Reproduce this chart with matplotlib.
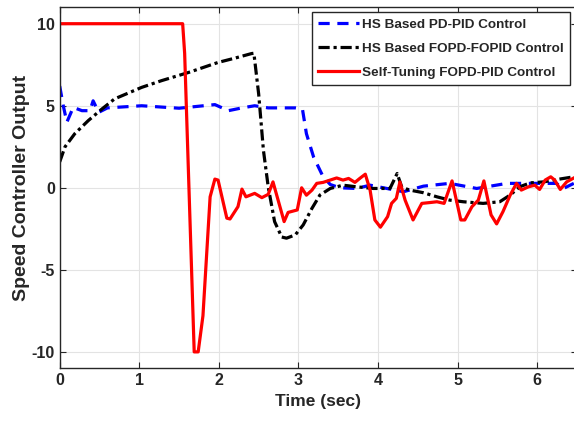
import numpy as np
import matplotlib
matplotlib.use("Agg")
import matplotlib.pyplot as plt

plt.rcParams['font.family'] = ['Liberation Sans', 'DejaVu Sans']
plt.rcParams['font.weight'] = 'bold'
plt.rcParams['axes.unicode_minus'] = False

# HS based PD-PID (blue dashed)
t_pd = [0.0, 0.045, 0.09, 0.17, 0.28, 0.38, 0.42, 0.49, 0.6, 1.03, 1.5, 1.95, 2.12,
        2.29, 2.45, 2.62, 2.96, 3.05, 3.10, 3.19, 3.31, 3.40, 3.52, 3.73, 3.90, 4.32,
        4.57, 4.90, 5.24, 5.62, 5.91, 6.24, 6.33, 6.46]
u_pd = [6.2, 5.0, 4.0, 4.9, 4.7, 4.7, 5.3, 4.6, 4.87, 5.0, 4.85, 5.07, 4.7,
        4.87, 5.0, 4.87, 4.87, 4.8, 3.3, 1.88, 0.67, 0.2, 0.0, -0.04, 0.16, -0.24,
        0.1, 0.27, -0.04, 0.27, 0.27, 0.27, -0.04, 0.27]

# HS based FOPD-FOPID (black dash-dot)
t_fo = [0.0, 0.067, 0.19, 0.36, 0.53, 0.69, 1.03, 1.28, 1.62, 1.99, 2.20, 2.41, 2.44,
        2.50, 2.56, 2.62, 2.70, 2.79, 2.85, 2.96, 3.06, 3.17, 3.27, 3.40, 3.56, 3.73,
        3.94, 4.15, 4.19, 4.24, 4.30, 4.40, 4.57, 4.74, 4.90, 5.07, 5.32, 5.53, 5.66,
        5.78, 5.91, 6.08, 6.24, 6.46]
u_fo = [1.58, 2.5, 3.3, 4.1, 4.8, 5.42, 6.12, 6.53, 7.03, 7.64, 7.9, 8.18, 8.2,
        5.72, 2.28, 0.06, -2.06, -3.0, -3.07, -2.87, -2.26, -1.25, -0.44, -0.04, 0.16, 0.06,
        -0.04, -0.04, 0.36, 0.87, 0.02, -0.14, -0.3, -0.55, -0.75, -0.85, -0.95, -0.85, -0.44,
        0.06, 0.3, 0.36, 0.5, 0.67]

# Self-tuning FOPD-PID (red solid)
t_st = [0.0, 1.545, 1.57, 1.69, 1.74, 1.80, 1.89, 1.95, 1.99, 2.10, 2.14, 2.24, 2.29,
        2.34, 2.45, 2.54, 2.62, 2.68, 2.82, 2.87, 2.985, 3.04, 3.10, 3.17, 3.23, 3.31,
        3.48, 3.56, 3.63, 3.71, 3.77, 3.84, 3.90, 3.96, 4.03, 4.12, 4.17, 4.23, 4.275,
        4.34, 4.44, 4.55, 4.65, 4.74, 4.83, 4.93, 5.04, 5.09, 5.18, 5.26, 5.33, 5.42,
        5.49, 5.57, 5.66, 5.74, 5.80, 5.89, 5.97, 6.03, 6.10, 6.17, 6.22, 6.29, 6.37, 6.46]
u_st = [10.0, 10.0, 8.2, -10.0, -10.0, -7.8, -0.55, 0.53, 0.47, -1.85, -1.9, -1.15, -0.08,
        -0.55, -0.34, -0.6, -0.4, 0.36, -2.06, -1.5, -1.35, 0.0, -0.45, -0.14, 0.27, 0.33,
        0.6, 0.47, 0.57, 0.33, 0.57, 0.83, -0.14, -1.96, -2.4, -1.76, -0.95, -0.64, 0.36,
        -0.75, -1.96, -0.95, -0.9, -0.85, -0.95, 0.42, -1.96, -1.96, -1.15, -0.75, 0.42, -1.65,
        -2.2, -1.45, -0.45, 0.27, -0.14, 0.06, 0.16, -0.1, 0.47, 0.67, 0.47, -0.1, 0.36, 0.6]

fig = plt.figure(figsize=(5.74, 4.30), dpi=100)
ax = fig.add_axes([59.7 / 574, (430 - 368.3) / 430, (577 - 59.7) / 574, (368.3 - 7.3) / 430])

ax.plot(t_pd, u_pd, color='#0000ff', ls=(0, (3.5, 2.4)), lw=2.3, label='HS Based PD-PID Control')
ax.plot(t_fo, u_fo, color='black', ls=(0, (3.5, 1.2, 1, 1.2)), lw=2.3, label='HS Based FOPD-FOPID Control')
ax.plot(t_st, u_st, color='#ff0000', lw=2.3, label='Self-Tuning FOPD-PID Control')

ax.set_xlim(0, 6.5)
ax.set_ylim(-11, 11)
ax.set_xticks(range(0, 7))
ax.set_yticks([-10, -5, 0, 5, 10])
ax.grid(True, color='#e3e3e3', lw=0.8)
ax.set_axisbelow(True)
ax.tick_params(direction='in', top=True, right=True, length=4, labelsize=11.5,
               color='#262626', labelcolor='#262626')
for s in ax.spines.values():
    s.set_color('#262626')
    s.set_linewidth(1.0)

ax.set_xlabel('Time (sec)', fontsize=12.5, fontweight='bold', color='#262626', labelpad=4)
ax.set_ylabel('Speed Controller Output', fontsize=14, fontweight='bold', color='#262626', labelpad=1)

leg = ax.legend(loc='upper right', bbox_to_anchor=(0.9865, 0.988), fontsize=9.7,
                frameon=True, fancybox=False, edgecolor='#262626', framealpha=1,
                handlelength=3.0, handletextpad=0.2, borderpad=0.5, labelspacing=0.85,
                borderaxespad=0)
leg.get_frame().set_linewidth(1.0)
for txt in leg.get_texts():
    txt.set_fontweight('bold')
    txt.set_color('#262626')

fig.savefig('out.png', dpi=100)
